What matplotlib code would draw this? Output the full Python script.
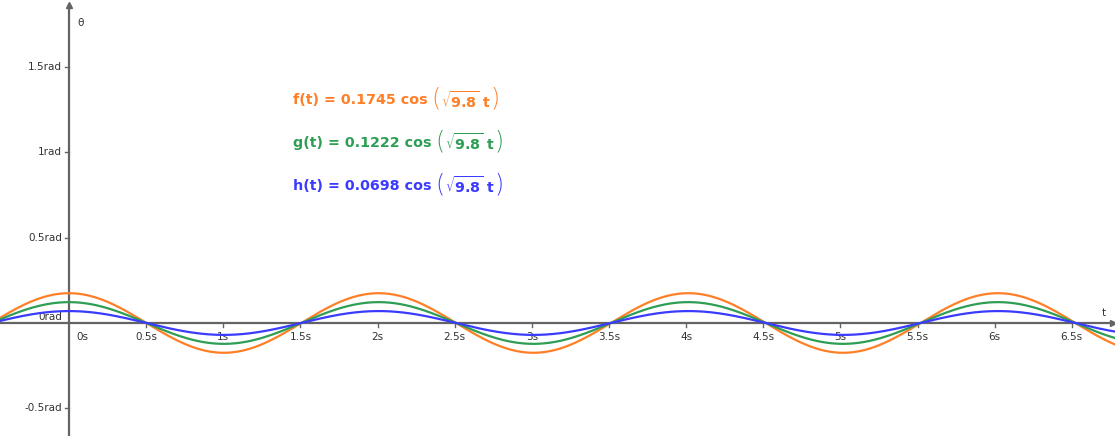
import numpy as np
import matplotlib
matplotlib.use("Agg")
import matplotlib.pyplot as plt

# pendulum: theta(t) = A cos(sqrt(g) t)
names = ["f", "g", "h"]
amplitudes = [0.1745, 0.1222, 0.0698]
g_value = 9.8
colors = ["#FF7F27", "#2E9E55", "#3B3BFF"]

xticks = [0.5, 1, 1.5, 2, 2.5, 3, 3.5, 4, 4.5, 5, 5.5, 6, 6.5]
xticklabels = ["0.5s", "1s", "1.5s", "2s", "2.5s", "3s", "3.5s", "4s", "4.5s", "5s", "5.5s", "6s", "6.5s"]
yticks = [-0.5, 0.5, 1, 1.5]
yticklabels = ["-0.5rad", "0.5rad", "1rad", "1.5rad"]

xmin, xmax = -0.447, 6.78
ymin, ymax = -0.662, 1.892
axis_col = "#646464"
lab_col = "#333333"

fig = plt.figure(figsize=(11.15, 4.36), dpi=100)
ax = fig.add_axes([0, 0, 1, 1])
ax.set_xlim(xmin, xmax)
ax.set_ylim(ymin, ymax)
ax.axis("off")

# axes
ax.plot([xmin, 6.765], [0, 0], color=axis_col, lw=1.6, zorder=1)
ax.plot([0, 0], [ymin, 1.86], color=axis_col, lw=1.6, zorder=1)
ax.plot(6.765, 0, marker=">", color=axis_col, ms=4, zorder=1)
ax.plot(0, 1.86, marker="^", color=axis_col, ms=4, zorder=1)
ax.text(0.055, 1.76, "θ", fontsize=7.5, color=lab_col, ha="left", va="center")
ax.text(6.71, 0.06, "t", fontsize=7.5, color=lab_col, ha="center", va="center")

# ticks
for xt, lb in zip(xticks, xticklabels):
    ax.plot([xt, xt], [0, -0.025], color=axis_col, lw=1)
    ax.text(xt, -0.085, lb, fontsize=7.5, color=lab_col, ha="center", va="center")
ax.text(0.05, -0.085, "0s", fontsize=7.5, color=lab_col, ha="left", va="center")
for yt, lb in zip(yticks, yticklabels):
    ax.plot([-0.025, 0], [yt, yt], color=axis_col, lw=1)
    ax.text(-0.045, yt, lb, fontsize=7.5, color=lab_col, ha="right", va="center")
ax.text(-0.045, 0.035, "0rad", fontsize=7.5, color=lab_col, ha="right", va="center")

# curves
t = np.linspace(xmin, xmax, 1500)
w = np.sqrt(g_value)
for a, c in zip(amplitudes, colors):
    ax.plot(t, a * np.cos(w * t), color=c, lw=1.6, zorder=3)

# formulas, built piece by piece so the brackets can be tall
for i, (n, a, c) in enumerate(zip(names, amplitudes, colors)):
    y = 1.305 - i * 0.25
    t1 = ax.text(1.45, y, "%s(t) = %.4f cos" % (n, a), fontsize=10.3,
                 fontweight="bold", color=c, ha="left", va="center")
    t2 = ax.annotate("(", xy=(1, 0.5), xycoords=t1, xytext=(3, 1), textcoords="offset points",
                     fontsize=17, fontweight="light", color=c, ha="left", va="center")
    t3 = ax.annotate(r"$\sqrt{\mathbf{9.8}}$ t", xy=(1, 0.5), xycoords=t2, xytext=(0, -1),
                     textcoords="offset points", fontsize=10.3, fontweight="bold",
                     color=c, ha="left", va="center")
    ax.annotate(")", xy=(1, 0.5), xycoords=t3, xytext=(0, 1), textcoords="offset points",
                fontsize=17, fontweight="light", color=c, ha="left", va="center")

fig.savefig("out.png", dpi=100)
